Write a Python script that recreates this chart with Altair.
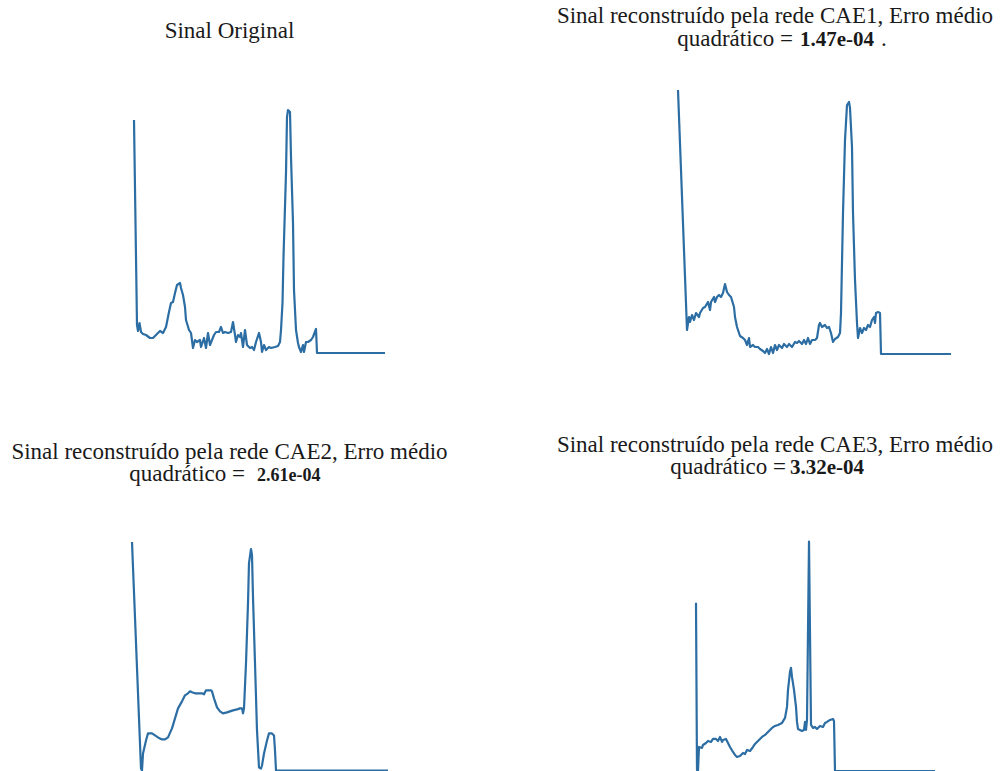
import altair as alt
import pandas as pd

# ---------------- data ----------------
# Panel 1: Sinal Original  (sample index, amplitude)
t1 = [0, 3, 4, 5.5, 7, 9, 12, 16, 19, 22, 26, 29, 32, 35, 37, 39, 41, 43, 46, 47, 49, 51, 52, 55, 57,
      59, 61, 63, 66, 67, 70, 72, 74, 76, 78, 80, 82, 85, 87, 89, 91, 94, 97, 99, 101, 102, 104, 106,
      107, 109, 111, 113, 116, 118, 120, 122, 125, 127, 128, 130, 132, 135, 137, 141, 144, 146, 147,
      148.5, 149.5, 152, 153, 154, 156, 157, 159, 160, 162, 164, 165, 167, 169, 170, 172, 174, 177,
      179, 182, 183, 251]
a1 = [2.33, 0.28, 0.22, 0.30, 0.21, 0.19, 0.18, 0.15, 0.15, 0.18, 0.22, 0.20, 0.26, 0.41, 0.50, 0.51,
      0.60, 0.68, 0.70, 0.65, 0.58, 0.46, 0.33, 0.23, 0.20, 0.05, 0.13, 0.11, 0.13, 0.06, 0.15, 0.05,
      0.20, 0.08, 0.13, 0.18, 0.21, 0.21, 0.26, 0.20, 0.21, 0.20, 0.21, 0.31, 0.18, 0.11, 0.18, 0.16,
      0.20, 0.06, 0.23, 0.08, 0.05, 0.06, 0.03, 0.11, 0.20, 0.11, 0.01, 0.08, 0.03, 0.06, 0.05, 0.06,
      0.07, 0.11, 0.23, 0.50, 0.96, 1.80, 2.36, 2.43, 2.41, 1.96, 1.30, 0.63, 0.23, 0.10, 0.06, 0.01,
      0.08, 0.01, 0.11, 0.11, 0.13, 0.16, 0.24, 0.00, 0.00]

# Panel 2: CAE1
t2 = [0, 9, 11, 12, 14, 16, 18, 21, 22, 25, 27, 30, 32, 33, 36, 37, 39, 41, 43, 45, 47, 49, 51, 53,
      56, 57, 59, 62, 65, 67, 69, 71, 72, 75, 77, 80, 82, 85, 87, 89, 91, 93, 95, 97, 99, 101, 104,
      106, 109, 111, 114, 117, 119, 121, 124, 126, 128, 130, 132, 134, 137, 139, 141, 142, 144, 147,
      149, 151, 153, 155, 157, 160, 162, 163, 165, 167, 169, 171, 172, 174, 175, 177, 179, 180, 182,
      184, 186, 188, 190, 192, 194, 196, 197, 198, 200, 202, 203, 273]
a2 = [2.64, 0.24, 0.37, 0.32, 0.39, 0.34, 0.41, 0.37, 0.41, 0.46, 0.47, 0.52, 0.44, 0.52, 0.57, 0.52,
      0.57, 0.59, 0.57, 0.61, 0.70, 0.62, 0.59, 0.57, 0.47, 0.37, 0.27, 0.18, 0.16, 0.14, 0.09, 0.16,
      0.07, 0.09, 0.07, 0.07, 0.05, 0.03, 0.01, 0.05, 0.00, 0.07, 0.01, 0.09, 0.04, 0.09, 0.06, 0.10,
      0.07, 0.10, 0.07, 0.12, 0.11, 0.13, 0.10, 0.14, 0.10, 0.16, 0.10, 0.14, 0.14, 0.16, 0.29, 0.31,
      0.27, 0.29, 0.26, 0.27, 0.21, 0.12, 0.15, 0.17, 0.21, 0.41, 1.41, 2.14, 2.49, 2.52, 2.46, 2.07,
      1.41, 0.74, 0.31, 0.16, 0.26, 0.21, 0.26, 0.24, 0.29, 0.27, 0.34, 0.37, 0.31, 0.41, 0.42, 0.41,
      0.00, 0.00]

# Panel 3: CAE2
t3 = [0, 9, 10, 11, 14, 16, 20, 23, 26, 30, 33, 36, 40, 43, 46, 50, 53, 56, 58, 60, 63, 66, 70, 72,
      74, 76, 79, 80, 82, 85, 88, 91, 95, 98, 101, 105, 108, 110, 111, 112, 114, 116, 117, 119, 120,
      121, 123, 125, 127, 129, 130, 132, 135, 137, 140, 142, 143, 144, 256]
a3 = [2.28, 0.02, 0.00, 0.17, 0.30, 0.37, 0.37, 0.35, 0.33, 0.31, 0.31, 0.33, 0.42, 0.52, 0.62, 0.69,
      0.75, 0.77, 0.79, 0.78, 0.77, 0.77, 0.77, 0.76, 0.80, 0.80, 0.80, 0.79, 0.72, 0.63, 0.59, 0.57,
      0.58, 0.59, 0.60, 0.61, 0.62, 0.62, 0.57, 0.62, 1.07, 1.67, 2.07, 2.21, 2.15, 1.73, 1.07, 0.40,
      0.03, 0.02, 0.05, 0.17, 0.30, 0.37, 0.37, 0.35, 0.20, 0.00, 0.00]

# Panel 4: CAE3
t4 = [0, 1, 2, 3, 6, 7, 10, 12, 15, 17, 20, 22, 24, 26, 27, 30, 32, 34, 37, 39, 41, 44, 47, 49, 51,
      54, 57, 59, 62, 66, 69, 72, 76, 79, 82, 86, 89, 91, 92, 94, 95, 96, 98, 100, 101, 102, 106, 108,
      109, 110, 111, 113, 115, 117, 119, 121, 124, 127, 129, 131, 134, 137, 138, 139, 239]
a4 = [1.68, 0.01, 0.00, 0.24, 0.23, 0.26, 0.28, 0.30, 0.29, 0.32, 0.32, 0.30, 0.34, 0.29, 0.31, 0.32,
      0.28, 0.24, 0.19, 0.16, 0.14, 0.15, 0.18, 0.17, 0.21, 0.20, 0.24, 0.27, 0.30, 0.34, 0.36, 0.39,
      0.43, 0.45, 0.46, 0.48, 0.53, 0.64, 0.81, 0.99, 1.03, 0.94, 0.81, 0.64, 0.49, 0.42, 0.40, 0.41,
      0.49, 0.41, 0.51, 2.29, 0.46, 0.43, 0.44, 0.42, 0.45, 0.44, 0.48, 0.49, 0.51, 0.52, 0.50, 0.00,
      0.00]

# Titles
title_line1 = ["Sinal Original",
               "Sinal reconstruído pela rede CAE1, Erro médio",
               "Sinal reconstruído pela rede CAE2, Erro médio",
               "Sinal reconstruído pela rede CAE3, Erro médio"]
title_prefix = ["", "quadrático =", "quadrático =", "quadrático ="]
title_value = ["", "1.47e-04", "2.61e-04", "3.32e-04"]
title_suffix = ["", ".", "", ""]

# ---------------- layout / style ----------------
LINE_COLOR = "#2c6ea3"
FONT = "Liberation Serif, Times New Roman, serif"
TXT = "#1a1a1a"

# pixel ranges of each panel: (x_left, x_right, y_bottom, y_top)
panel_ranges = [
    (134, 385, 353, 110),
    (678, 951, 354, 90),
    (132, 388, 770.5, 542),
    (696, 935, 771, 541.7),
]
series = [(t1, a1), (t2, a2), (t3, a3), (t4, a4)]

layers = []
for (t, a), (x0, x1, yb, yt) in zip(series, panel_ranges):
    df = pd.DataFrame({"t": t, "amp": a})
    layers.append(
        alt.Chart(df).mark_line(color=LINE_COLOR, strokeWidth=2.2, strokeJoin="round").encode(
            x=alt.X("t:Q", axis=None,
                    scale=alt.Scale(domain=[0, max(t)], range=[x0, x1], nice=False, zero=False)),
            y=alt.Y("amp:Q", axis=None,
                    scale=alt.Scale(domain=[0, max(a)], range=[yb, yt], nice=False, zero=False)),
        )
    )


def text(s, x, y, align="center", size=23, weight="normal"):
    return alt.Chart(alt.Data(values=[{}])).mark_text(
        text=s, align=align, baseline="alphabetic", font=FONT, fontSize=size,
        fontWeight=weight, color=TXT
    ).encode(x=alt.value(x), y=alt.value(y))


# title placement (pixel positions of text blocks)
layers.append(text(title_line1[0], 229.5, 38))

layers.append(text(title_line1[1], 775, 23))
layers.append(text(title_prefix[1], 793, 46, align="right"))
layers.append(text(title_value[1], 800, 46, align="left", size=21, weight="bold"))
layers.append(text(title_suffix[1], 881, 46, align="left"))

layers.append(text(title_line1[2], 229.5, 459))
layers.append(text(title_prefix[2], 245, 481, align="right"))
layers.append(text(title_value[2], 257, 481, align="left", size=18, weight="bold"))

layers.append(text(title_line1[3], 775, 452))
layers.append(text(title_prefix[3], 786, 474, align="right"))
layers.append(text(title_value[3], 790, 474, align="left", size=21, weight="bold"))

chart = (
    alt.layer(*layers)
    .resolve_scale(x="independent", y="independent")
    .properties(width=1003, height=771, padding=0,
                autosize=alt.AutoSizeParams(type="none"), background="white")
    .configure_view(stroke=None)
)

chart.save("out.html", embed_options={"renderer": "svg", "actions": False})
